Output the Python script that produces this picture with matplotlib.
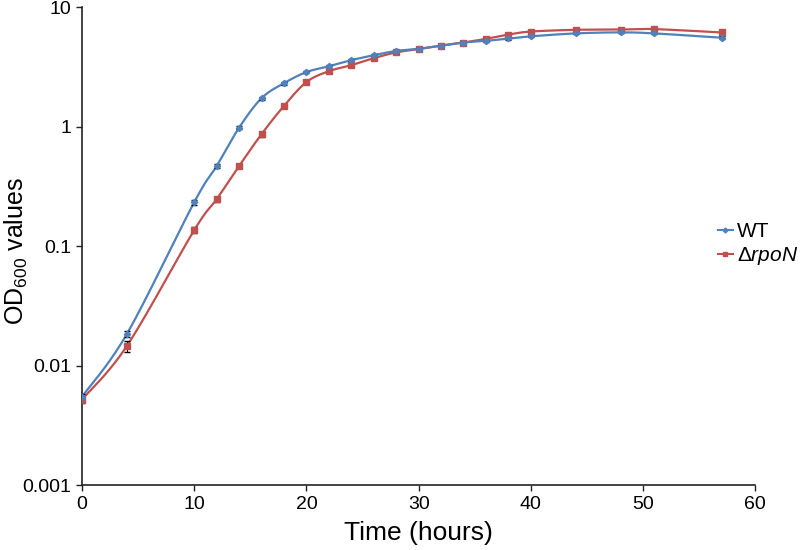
import numpy as np
import matplotlib
matplotlib.use("Agg")
import matplotlib.pyplot as plt

plt.rcParams['font.family'] = ['Liberation Sans', 'DejaVu Sans']
plt.rcParams['mathtext.fontset'] = 'custom'
plt.rcParams['mathtext.rm'] = 'Liberation Sans'
plt.rcParams['mathtext.it'] = 'Liberation Sans:italic'

# time points (hours) and OD600 readings
hours = [0, 4, 10, 12, 14, 16, 18, 20, 22, 24, 26, 28, 30, 32, 34, 36, 38, 40, 44, 48, 51, 57]
wt_od = [0.0055, 0.0184, 0.233, 0.468, 0.98, 1.73, 2.31, 2.86, 3.2, 3.6, 3.96, 4.3, 4.48,
         4.77, 5.06, 5.22, 5.47, 5.7, 6.03, 6.15, 6.03, 5.55]
rpon_od = [0.0052, 0.0146, 0.136, 0.247, 0.468, 0.865, 1.49, 2.36, 2.91, 3.27, 3.74, 4.18, 4.46,
           4.77, 5.06, 5.43, 5.9, 6.25, 6.46, 6.5, 6.55, 6.14]
wt_err = [0.0003, 0.0012, 0.01, 0.02, 0.03, 0.05, 0.06, 0.07, 0.08, 0.08, 0.09, 0.1, 0.1,
          0.1, 0.1, 0.1, 0.12, 0.12, 0.12, 0.12, 0.12, 0.15]
rpon_err = [0.0003, 0.0015, 0.008, 0.012, 0.02, 0.04, 0.05, 0.07, 0.08, 0.08, 0.09, 0.1, 0.1,
            0.1, 0.1, 0.12, 0.12, 0.15, 0.15, 0.15, 0.15, 0.3]

BLUE = '#4F81BD'
RED = '#C0504D'


def smooth(x, y, n=30):
    # Excel-like smoothed line (Catmull-Rom bezier) in log space
    x = np.asarray(x, float)
    ly = np.log10(np.asarray(y, float))
    px = np.concatenate([[x[0]], x, [x[-1]]])
    py = np.concatenate([[ly[0]], ly, [ly[-1]]])
    xs, ys = [], []
    for i in range(1, len(px) - 2):
        p0 = np.array([px[i - 1], py[i - 1]])
        p1 = np.array([px[i], py[i]])
        p2 = np.array([px[i + 1], py[i + 1]])
        p3 = np.array([px[i + 2], py[i + 2]])
        c1 = p1 + (p2 - p0) / 6
        c2 = p2 - (p3 - p1) / 6
        t = np.linspace(0, 1, n)[:, None]
        b = (1 - t) ** 3 * p1 + 3 * (1 - t) ** 2 * t * c1 + 3 * (1 - t) * t ** 2 * c2 + t ** 3 * p2
        xs.extend(b[:, 0])
        ys.extend(b[:, 1])
    return np.array(xs), 10 ** np.array(ys)


fig = plt.figure(figsize=(8, 5.5), dpi=100)
ax = fig.add_axes([0.1025, 0.118, 0.8415, 0.869])

sx, sy = smooth(hours, wt_od)
ax.plot(sx, sy, color=BLUE, lw=1.6, zorder=3)
sx, sy = smooth(hours, rpon_od)
ax.plot(sx, sy, color=RED, lw=1.6, zorder=2)

ax.errorbar(hours, rpon_od, yerr=rpon_err, fmt='none', ecolor='black', elinewidth=0.8,
            capsize=2, zorder=4)
ax.errorbar(hours, wt_od, yerr=wt_err, fmt='none', ecolor='black', elinewidth=0.8,
            capsize=2, zorder=4)
ax.plot(hours, rpon_od, 's', color=RED, ms=4.5, zorder=5)
ax.plot(hours, wt_od, 'D', color=BLUE, ms=3.2, zorder=6)

# legend proxies
ax.plot([], [], color=BLUE, lw=1.5, marker='D', ms=2.5, label='WT')
ax.plot([], [], color=RED, lw=1.5, marker='s', ms=3, label='Δ$\\mathit{rpoN}$')

ax.set_yscale('log')
ax.set_ylim(0.001, 10)
ax.set_xlim(0, 60)
ax.set_xticks([0, 10, 20, 30, 40, 50, 60])
ax.set_yticks([0.001, 0.01, 0.1, 1, 10])
ax.set_yticklabels(['0.001', '0.01', '0.1', '1', '10'])
ax.yaxis.set_minor_locator(matplotlib.ticker.NullLocator())

for s in ['top', 'right']:
    ax.spines[s].set_visible(False)
for s in ['left', 'bottom']:
    ax.spines[s].set_linewidth(1.2)
    ax.spines[s].set_color('#222222')
ax.tick_params(labelsize=14, length=4, width=1, colors='#222222')
ax.tick_params(labelcolor='black')

ax.set_xlabel('Time (hours)', fontsize=19, labelpad=6)
fig.text(0.003, 0.544, 'OD$_{\\mathregular{600}}$ values', fontsize=18, rotation=90,
         ha='left', va='center')

ax.legend(loc='center left', bbox_to_anchor=(718 / 800, 1 - 244.5 / 550),
          bbox_transform=fig.transFigure, frameon=False, fontsize=15,
          handlelength=0.7, handletextpad=0.2, labelspacing=0.2,
          borderpad=0, borderaxespad=0)

fig.savefig('out.png', dpi=100)
